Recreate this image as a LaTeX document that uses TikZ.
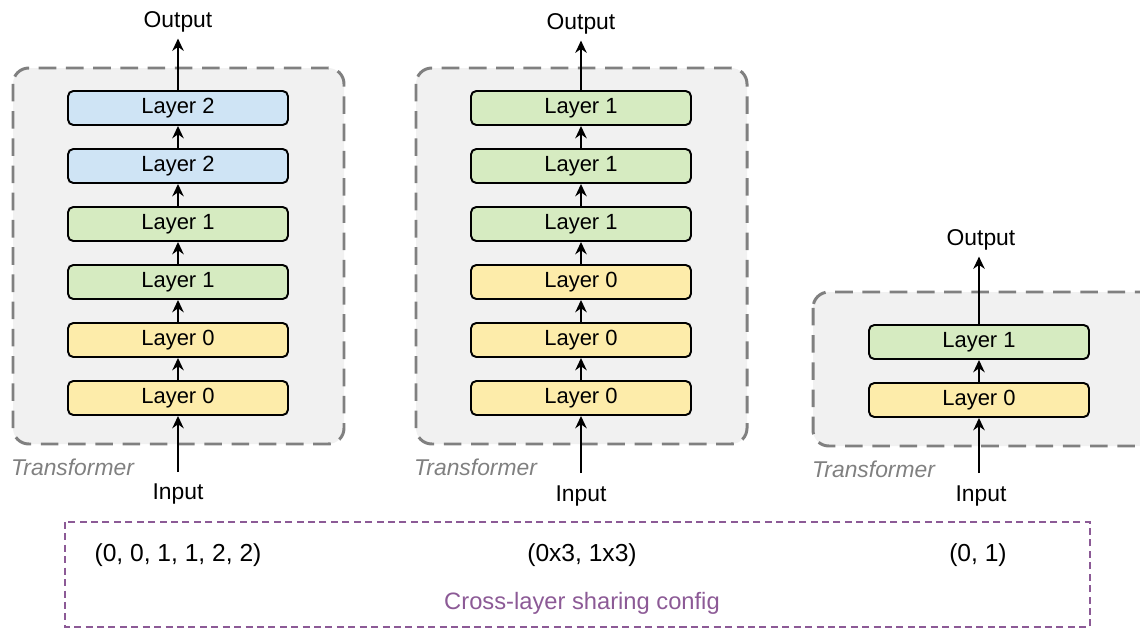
\documentclass[tikz,border=0pt]{standalone}
\usepackage{fontspec}
\setmainfont{Liberation Sans}
\usetikzlibrary{arrows.meta}

\definecolor{layerblue}{RGB}{207,228,245}
\definecolor{layergreen}{RGB}{214,235,193}
\definecolor{layeryellow}{RGB}{253,236,170}
\definecolor{panelgray}{RGB}{241,241,241}
\definecolor{dashgray}{RGB}{128,128,128}
\definecolor{configpurple}{RGB}{140,90,150}

\tikzset{
    layerbox/.style={draw=black, line width=1.1pt, rounded corners=3pt,
        minimum width=4.4cm, minimum height=0.68cm, inner sep=0pt,
        font=\fontsize{12.5}{15}\selectfont},
    panel/.style={fill=panelgray, draw=dashgray, line width=1.7pt,
        dash pattern=on 10pt off 5.5pt, rounded corners=9pt},
    flow/.style={line width=1.6pt, -{Stealth[length=7pt,width=6.5pt]}},
    iolabel/.style={font=\fontsize{13}{15}\selectfont},
    tflabel/.style={anchor=west, text=dashgray, font=\fontsize{13}{15}\selectfont\itshape},
}

\begin{document}
\begin{tikzpicture}[x=0.02cm, y=-0.02cm]
        \useasboundingbox (0,0) rectangle (1140,629);

        % Panel (a): (0, 0, 1, 1, 2, 2)
        \begin{scope}
            \draw[panel] (13,68) rectangle (344,444);
            \foreach \lbl/\col [count=\i] in {0/layeryellow, 0/layeryellow, 1/layergreen,
                1/layergreen, 2/layerblue, 2/layerblue} {
                \node[layerbox, fill=\col] (a\i) at (178,456-58*\i) {Layer \lbl};
            }
            \foreach \i in {1,...,5} {
                \pgfmathtruncatemacro\j{\i+1}
                \draw[flow] (a\i.north) -- (a\j.south);
            }
            \node[iolabel] (aout) at (178,22) {Output};
            \node[iolabel] (ain) at (178,494) {Input};
            \coordinate (ainbase) at (178,472);
            \draw[flow] (a6.north) -- (a6.north |- aout.south);
            \draw[flow] (ainbase) -- (a1.south);
            \node[tflabel] (atf) at (5,467) {Transformer};
        \end{scope}

        % Panel (b): (0x3, 1x3)
        \begin{scope}
            \draw[panel] (416,68) rectangle (747,444);
            \foreach \lbl/\col [count=\i] in {0/layeryellow, 0/layeryellow, 0/layeryellow,
                1/layergreen, 1/layergreen, 1/layergreen} {
                \node[layerbox, fill=\col] (b\i) at (581,456-58*\i) {Layer \lbl};
            }
            \foreach \i in {1,...,5} {
                \pgfmathtruncatemacro\j{\i+1}
                \draw[flow] (b\i.north) -- (b\j.south);
            }
            \node[iolabel] (bout) at (581,24) {Output};
            \node[iolabel] (bin) at (581,496) {Input};
            \coordinate (binbase) at (581,473);
            \draw[flow] (b6.north) -- (b6.north |- bout.south);
            \draw[flow] (binbase) -- (b1.south);
            \node[tflabel] (btf) at (408,467) {Transformer};
        \end{scope}

        % Panel (c): (0, 1)
        \begin{scope}
            \draw[panel] (813,292) rectangle (1160,446);
            \node[layerbox, fill=layeryellow] (c1) at (979,400) {Layer 0};
            \node[layerbox, fill=layergreen] (c2) at (979,342) {Layer 1};
            \draw[flow] (c1.north) -- (c2.south);
            \node[iolabel] (cout) at (981,240) {Output};
            \node[iolabel] (cin) at (981,496) {Input};
            \coordinate (cinbase) at (979,473);
            \draw[flow] (c2.north) -- (c2.north |- cout.south);
            \draw[flow] (cinbase) -- (c1.south);
            \node[tflabel] (ctf) at (806,469) {Transformer};
        \end{scope}

        % Sharing configs
        \draw[configpurple, line width=0.9pt, dash pattern=on 4pt off 2.5pt] (65,522) rectangle (1090,627);
        \node[font=\fontsize{14}{16}\selectfont] (cfga) at (178,555) {(0, 0, 1, 1, 2, 2)};
        \node[font=\fontsize{14}{16}\selectfont] (cfgb) at (582,555) {(0x3, 1x3)};
        \node[font=\fontsize{14}{16}\selectfont] (cfgc) at (978,555) {(0, 1)};
        \node[text=configpurple, font=\fontsize{13.5}{16}\selectfont] (cfgname) at (582,603) {Cross-layer sharing config};
    \end{tikzpicture}
\end{document}
